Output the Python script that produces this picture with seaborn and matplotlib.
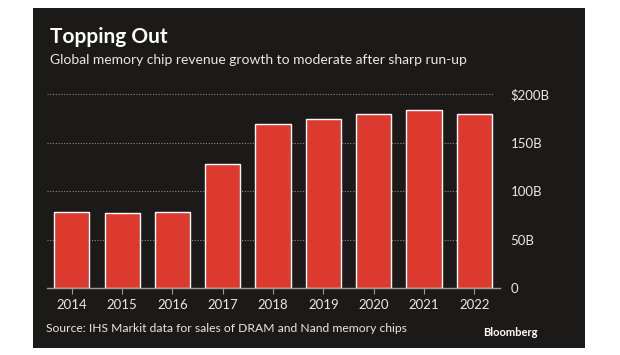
"""Bloomberg-style bar chart: global memory chip revenue."""

import matplotlib
matplotlib.use("Agg")
import matplotlib.pyplot as plt
import seaborn as sns
import pandas as pd
from matplotlib.patches import Rectangle

years = ["2014", "2015", "2016", "2017", "2018", "2019", "2020", "2021", "2022"]
revenue_bn = [78.5, 77.5, 78.5, 128, 169, 174, 180, 184, 180]
ytick_values = [0, 50, 100, 150, 200]
ytick_labels = ["0", "50B", "100B", "150B", "$200B"]

PANEL = "#1c1a19"
RED = "#dc3a2e"
TEXT = "#e8e8e8"

sns.set_theme(style="dark")
plt.rcParams["font.family"] = ["Lato", "DejaVu Sans"]

df = pd.DataFrame({"year": years, "revenue": revenue_bn})

fig = plt.figure(figsize=(6.2, 3.55), dpi=100)
fig.patch.set_facecolor("white")
# dark card behind everything
fig.patches.append(Rectangle((33 / 620, 1 - 348 / 355), 552 / 620, 340 / 355,
                             transform=fig.transFigure, facecolor=PANEL,
                             edgecolor="none", zorder=-10))

ax = fig.add_axes([46.7 / 620, 66.7 / 355, 452.8 / 620, 198.9 / 355])
ax.set_facecolor(PANEL)
ax.set_zorder(1)

sns.barplot(data=df, x="year", y="revenue", color=RED, width=0.7,
            saturation=1, ax=ax, zorder=3)

ax.set_xlim(-0.5, 8.5)
ax.set_ylim(0, 205)
ax.set_xlabel("")
ax.set_ylabel("")

ax.yaxis.tick_right()
ax.set_yticks(ytick_values)
ax.set_yticklabels(ytick_labels)
ax.tick_params(axis="y", length=0, pad=8, labelsize=9.5, labelcolor=TEXT)
ax.tick_params(axis="x", length=4, width=0.8, color="#9a9a9a", pad=4,
               labelsize=9.5, labelcolor=TEXT, bottom=True)

ax.grid(False)
for v in ytick_values[1:]:
    ax.axhline(v, xmin=0, xmax=0.985, color="#8a8a8a", linestyle=(0, (1, 1.5)),
               linewidth=0.8, zorder=1)

for side in ["top", "right", "left"]:
    ax.spines[side].set_visible(False)
ax.spines["bottom"].set_color("#9a9a9a")
ax.spines["bottom"].set_linewidth(1.0)
ax.spines["bottom"].set_zorder(4)

fig.text(50 / 620, 1 - 37 / 355, "Topping Out", color="white", fontsize=15,
         fontweight="bold", va="center", ha="left")
fig.text(50 / 620, 1 - 60 / 355,
         "Global memory chip revenue growth to moderate after sharp run-up",
         color=TEXT, fontsize=10, va="center", ha="left")
fig.text(46 / 620, 1 - 329 / 355,
         "Source: IHS Markit data for sales of DRAM and Nand memory chips",
         color=TEXT, fontsize=8.7, va="center", ha="left")
fig.text(538 / 620, 1 - 332 / 355, "Bloomberg", color="white", fontsize=8,
         fontweight="bold", va="center", ha="right")

fig.savefig("out.png", dpi=100, facecolor=fig.get_facecolor())
plt.close(fig)
